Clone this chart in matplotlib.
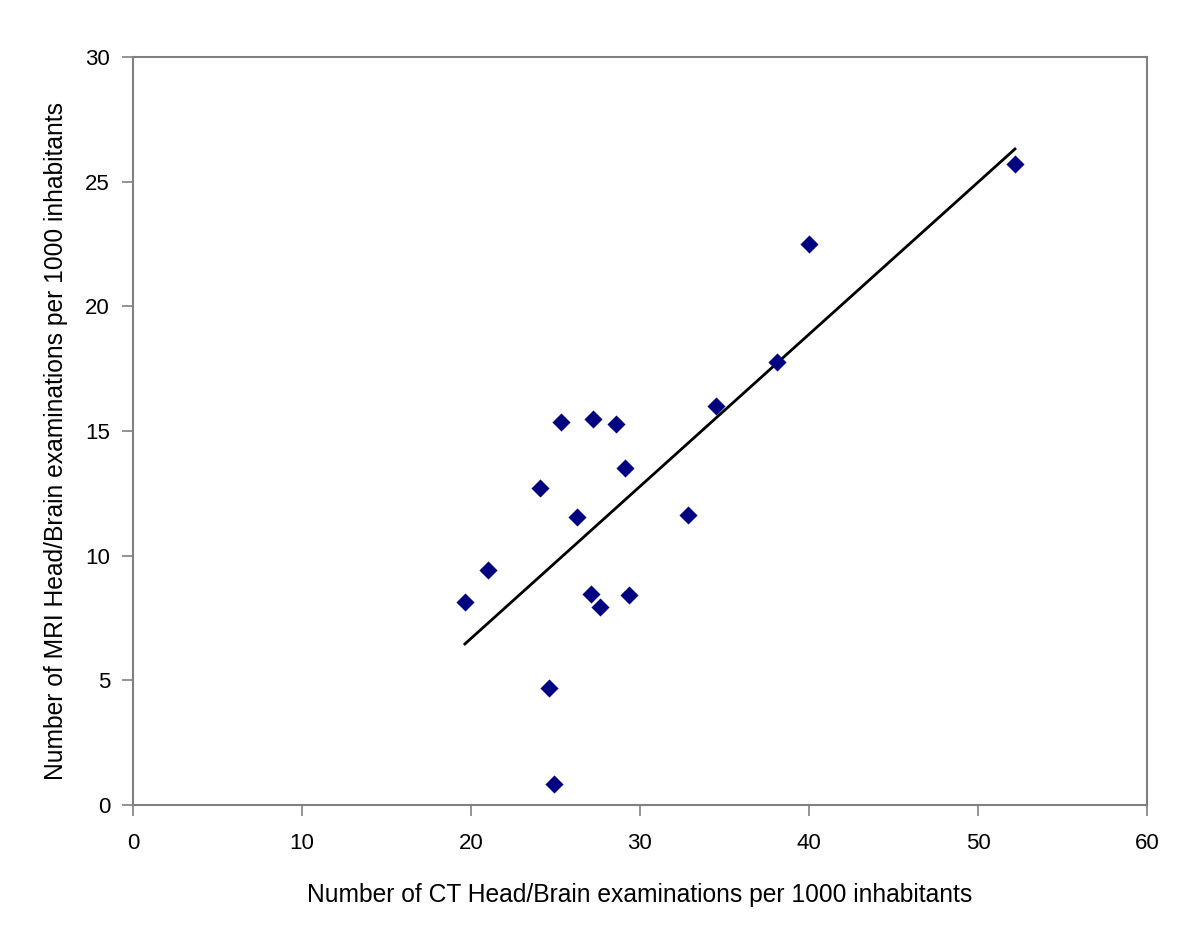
import numpy as np
import matplotlib.pyplot as plt

# CT vs MRI head/brain examinations per 1000 inhabitants
ct = [19.64, 21.02, 24.08, 24.63, 24.93, 25.33, 26.25, 27.08, 27.20,
      27.63, 28.56, 29.11, 29.37, 32.86, 34.50, 38.12, 40.02, 52.19]
mri = [8.16, 9.42, 12.73, 4.68, 0.83, 15.38, 11.54, 8.45, 15.47,
       7.96, 15.28, 13.53, 8.42, 11.63, 16.00, 17.76, 22.50, 25.70]

plt.rcParams['font.family'] = ['Liberation Sans', 'DejaVu Sans']

fig = plt.figure(figsize=(12, 9.5), dpi=100)
ax = fig.add_axes([0.1108, 0.1526, 0.845, 0.7874])

ax.scatter(ct, mri, marker='D', s=85, color='#000080', zorder=3, linewidths=0)

# linear trend line over the data range
slope, intercept = np.polyfit(ct, mri, 1)
xs = np.array([min(ct), max(ct)])
ax.plot(xs, slope * xs + intercept, color='black', lw=2, zorder=2)

ax.set_xlim(0, 60)
ax.set_ylim(0, 30)
ax.set_xticks(range(0, 61, 10))
ax.set_yticks(range(0, 31, 5))
ax.tick_params(direction='out', length=8, width=1.2, color='#808080',
               labelsize=16)
ax.tick_params(axis='x', pad=12)
ax.tick_params(axis='y', pad=8.5)
for sp in ax.spines.values():
    sp.set_color('#808080')
    sp.set_linewidth(1.5)

ax.set_xlabel('Number of CT Head/Brain examinations per 1000 inhabitants',
              fontsize=17.7, labelpad=21)
ax.set_ylabel('Number of MRI Head/Brain examinations per 1000 inhabitants',
              fontsize=17.7)
ax.yaxis.set_label_coords(-0.064, 0.487)

fig.savefig('out.png', dpi=100)
